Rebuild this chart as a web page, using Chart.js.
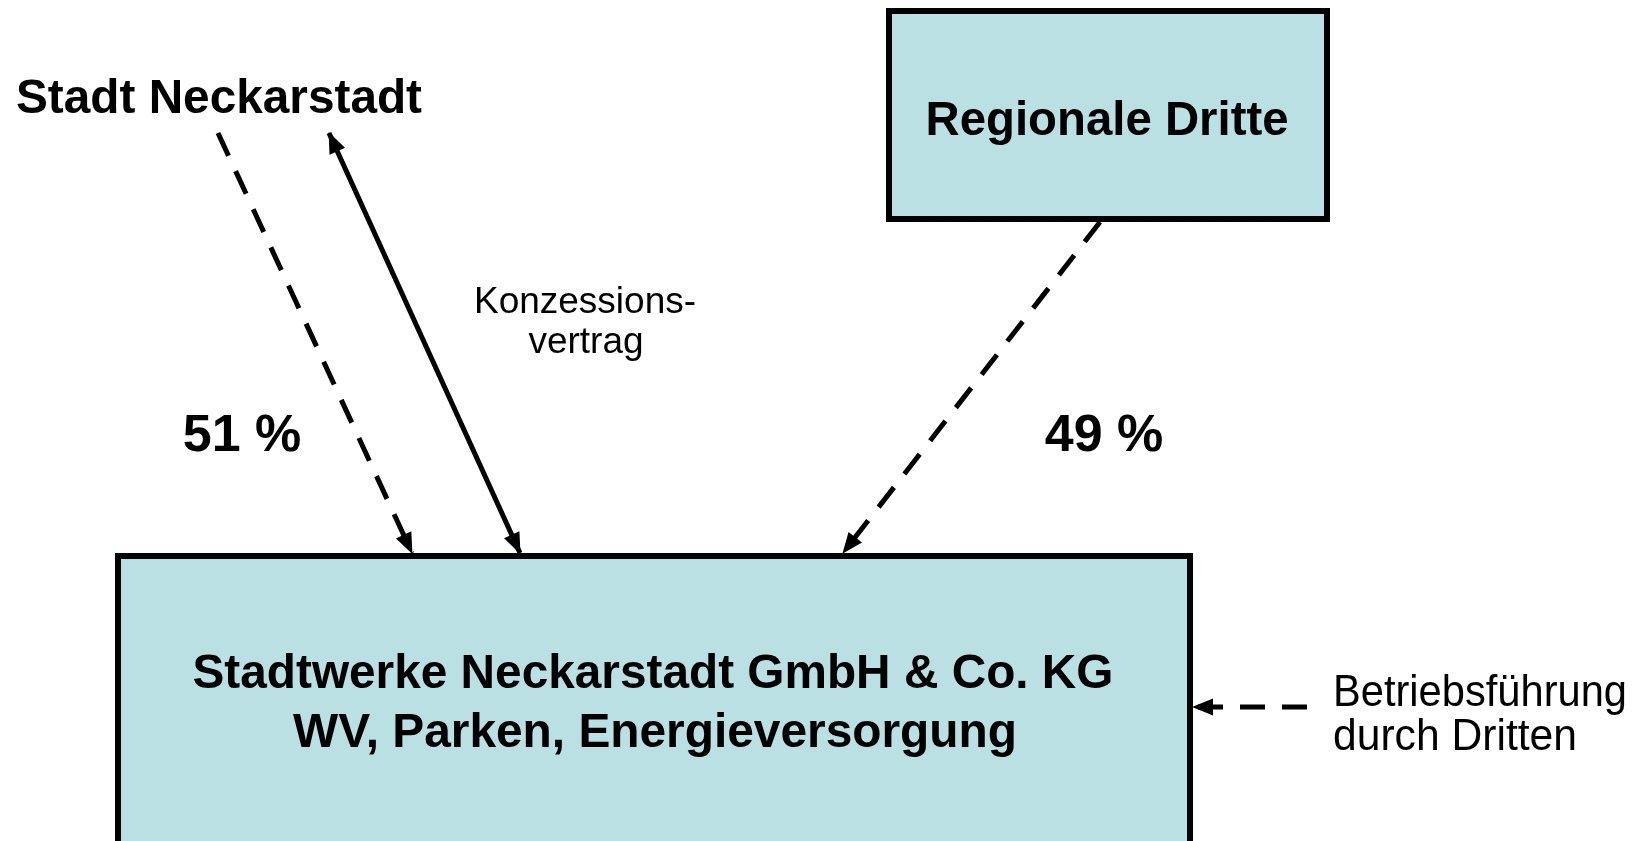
<!DOCTYPE html>
<html>
<head>
<meta charset="utf-8">
<script src="https://cdn.jsdelivr.net/npm/chart.js@4.4.1/dist/chart.umd.min.js"></script>
<style>
  html, body { margin: 0; padding: 0; background: #fff; }
  #wrap { width: 1652px; height: 841px; }
</style>
</head>
<body>
<div id="wrap"><canvas id="c"></canvas></div>
<script>
// ==================== DATA ====================
// diagram units = pixels of the 1652x841 sheet, y downwards

// boxes (outer line centre)
const boxLeft   = [889, 118];
const boxRight  = [1327, 1190];
const boxTop    = [11, 556];
const boxBottom = [219, 850];

// connectors: start point -> arrow tip
const edgeFromX = [218, 520, 1100, 1307];
const edgeFromY = [133, 553, 222, 707];
const edgeToX   = [412, 329, 843, 1193];
const edgeToY   = [553, 133, 553, 707];
const edgeDash  = [true, false, true, true];
const edgeBoth  = [false, true, false, false];

// texts: anchor x (centre or left), baseline y, width
const labelText = ['Stadt Neckarstadt', 'Regionale Dritte', 'Konzessions-', 'vertrag',
                   '51 %', '49 %', 'Stadtwerke Neckarstadt GmbH & Co. KG',
                   'WV, Parken, Energieversorgung', 'Betriebsführung', 'durch Dritten'];
const labelX    = [219, 1107, 585, 586, 242, 1104, 653, 655, 1333, 1333];
const labelY    = [113, 135, 313, 353, 451, 451, 688, 747, 706, 750];
const labelW    = [406, 363, 222, 116, 120, 119, 921, 724, 294, 244];
const labelKind = ['head', 'head', 'note', 'note', 'pct', 'pct', 'head', 'head', 'side', 'side'];

// ==================== STYLE ====================
const FILL = '#BAE0E3';
const FONTS = {
  head: { font: 'bold 49px "Liberation Sans", Arial, sans-serif', align: 'center' },
  pct:  { font: 'bold 52px "Liberation Sans", Arial, sans-serif', align: 'center' },
  note: { font: '37px "Liberation Sans", Arial, sans-serif',      align: 'center' },
  side: { font: '44px "Liberation Sans", Arial, sans-serif',      align: 'left' }
};

function boxData(i) {
  return [
    { x: boxLeft[i],  y: boxTop[i] },
    { x: boxRight[i], y: boxTop[i] },
    { x: boxRight[i], y: boxBottom[i] },
    { x: boxLeft[i],  y: boxBottom[i] },
    { x: boxLeft[i],  y: boxTop[i] }
  ];
}

const datasets = [];
boxLeft.forEach((_, i) => datasets.push({
  kind: 'box', data: boxData(i), showLine: true, pointRadius: 0,
  borderColor: '#000', borderWidth: 6, backgroundColor: FILL,
  fill: 'shape', tension: 0, borderCapStyle: 'square', borderJoinStyle: 'miter', order: 2
}));
edgeFromX.forEach((_, i) => datasets.push({
  kind: 'edge', both: edgeBoth[i],
  data: [{ x: edgeFromX[i], y: edgeFromY[i] }, { x: edgeToX[i], y: edgeToY[i] }],
  showLine: true, pointRadius: 0, borderColor: '#000', borderWidth: 5,
  borderDash: edgeDash[i] ? [25, 17] : [], borderCapStyle: 'butt', fill: false, tension: 0, order: 1
}));

function head(ctx, from, to) {
  const a = Math.atan2(to.y - from.y, to.x - from.x);
  const L = 20, W = 8.5;
  ctx.save();
  ctx.translate(to.x, to.y);
  ctx.rotate(a);
  ctx.beginPath();
  ctx.moveTo(1, 0);
  ctx.lineTo(-L, -W);
  ctx.lineTo(-L, W);
  ctx.closePath();
  ctx.fillStyle = '#000';
  ctx.fill();
  ctx.restore();
}

const arrowHeads = {
  id: 'arrowHeads',
  afterDatasetsDraw(chart) {
    const ctx = chart.ctx;
    chart.data.datasets.forEach((ds, i) => {
      if (ds.kind !== 'edge') return;
      const pts = chart.getDatasetMeta(i).data;
      head(ctx, pts[0], pts[1]);
      if (ds.both) head(ctx, pts[1], pts[0]);
    });
  }
};

const diagramText = {
  id: 'diagramText',
  afterDatasetsDraw(chart) {
    const ctx = chart.ctx, sx = chart.scales.x, sy = chart.scales.y;
    ctx.save();
    ctx.fillStyle = '#000';
    ctx.textBaseline = 'alphabetic';
    labelText.forEach((t, i) => {
      const f = FONTS[labelKind[i]];
      ctx.font = f.font;
      ctx.textAlign = f.align;
      ctx.fillText(t, sx.getPixelForValue(labelX[i]), sy.getPixelForValue(labelY[i]), labelW[i]);
    });
    ctx.restore();
  }
};

new Chart(document.getElementById('c'), {
  type: 'scatter',
  data: { datasets },
  options: {
    responsive: true, maintainAspectRatio: false, animation: false, events: [],
    layout: { padding: 0 },
    scales: {
      x: { type: 'linear', min: 0, max: 1652, display: false },
      y: { type: 'linear', min: 0, max: 841, reverse: true, display: false }
    },
    plugins: { legend: { display: false }, tooltip: { enabled: false } }
  },
  plugins: [arrowHeads, diagramText]
});
</script>
</body>
</html>
